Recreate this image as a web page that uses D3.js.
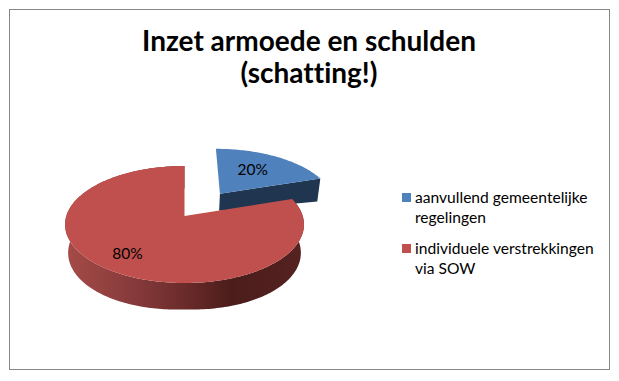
<!DOCTYPE html>
<html>
<head>
<meta charset="utf-8">
<script src="https://cdn.jsdelivr.net/npm/d3@7"></script>
<style>
  html, body { margin: 0; padding: 0; background: #fff; }
  svg { display: block; }
  text { font-family: Lato, "Open Sans", sans-serif; fill: #000; font-variant-ligatures: none; }
</style>
</head>
<body>
<div id="chart"></div>
<script>
const titleLines = ["Inzet armoede en schulden", "(schatting!)"];
const categories = ["aanvullend gemeentelijke regelingen", "individuele verstrekkingen via SOW"];
const legendLines = [["aanvullend gemeentelijke", "regelingen"], ["individuele verstrekkingen", "via SOW"]];
const values = [20, 80];
const topColors = ["#4f81bd", "#c0504d"];

const width = 619, height = 381;
const svg = d3.select("#chart").append("svg")
    .attr("width", width).attr("height", height);

svg.append("rect")
    .attr("x", 9.5).attr("y", 9.5)
    .attr("width", 600).attr("height", 360)
    .attr("fill", "#fff").attr("stroke", "#868686");

// fake 3d: circle in the plane (x right, z towards viewer), then perspective
const cx = 184.5, cy = 216, R = 118.2, K = 57.3, persp = 0.145;
const explode = [0.51, 0];
const nudge = [2, 0];
const labelRadius = [0.6, 0.75];

function project(x, z, drop) {
    const s = 1 / (1 - persp * z + (drop ? 0.026 : 0));
    return [cx + R * x * s, cy + (K * z + (drop || 0)) * s];
}

// point of a slice: a = angle clockwise from 12 o'clock, r = radius, depth = lower face
function slicePoint(mid, ex, a, r, depth) {
    const x = ex * Math.sin(mid) + r * Math.sin(a);
    const z = -ex * Math.cos(mid) - r * Math.cos(a);
    // the rim is a bit deeper at the sides of the big slice
    const side = ex === 0 ? 4 * Math.abs(Math.sin(a)) : 0;
    return project(x, z, depth ? 18 + 7 * r + side : 0);
}

const arcs = d3.pie().sort(null).startAngle(0).endAngle(2 * Math.PI)(values);
const line = d3.line();
const defs = svg.append("defs");

const sideGradient = defs.append("linearGradient")
    .attr("id", "red-side")
    .attr("gradientUnits", "userSpaceOnUse")
    .attr("x1", 66).attr("x2", 302).attr("y1", 0).attr("y2", 0);
sideGradient.selectAll("stop")
    .data([[0, "#a54b48"], [0.3, "#85393a"], [0.55, "#642826"], [0.7, "#4a1d1b"], [1, "#552220"]])
    .join("stop")
    .attr("offset", d => d[0])
    .attr("stop-color", d => d[1]);

const pie = svg.append("g");

arcs.forEach((d, i) => {
    const mid = (d.startAngle + d.endAngle) / 2;
    const ex = explode[i];
    const g = pie.append("g").attr("transform", `translate(${nudge[i]},0)`);
    const angles = d3.range(d.startAngle, d.endAngle, 0.02).concat(d.endAngle);
    const top = angles.map(a => slicePoint(mid, ex, a, 1, false));
    const apex = slicePoint(mid, ex, 0, 0, false);

    if (i === 0) {
        // cut face of the pulled out slice, the one facing the viewer
        g.append("path")
            .attr("d", line([apex, top[top.length - 1],
                slicePoint(mid, ex, d.endAngle, 1, true),
                slicePoint(mid, ex, 0, 0, true)]) + "Z")
            .attr("fill", "#1f3550");
    } else {
        const base = angles.map(a => slicePoint(mid, ex, a, 1, true));
        g.append("path")
            .attr("d", line(top.concat(base.reverse())) + "Z")
            .attr("fill", "url(#red-side)");
    }

    g.append("path")
        .attr("d", line([apex].concat(top)) + "Z")
        .attr("fill", topColors[i]);
});

// data labels go on top of everything
arcs.forEach((d, i) => {
    const mid = (d.startAngle + d.endAngle) / 2;
    const p = slicePoint(mid, explode[i], mid, labelRadius[i], false);
    svg.append("text")
        .attr("x", p[0]).attr("y", p[1] + 5)
        .attr("text-anchor", "middle")
        .style("font-size", "15.5px")
        .text(d.data + "%");
});

svg.selectAll(".title")
    .data(titleLines)
    .join("text")
    .attr("class", "title")
    .attr("x", 309).attr("y", (d, i) => 51 + i * 32)
    .attr("text-anchor", "middle")
    .style("font-size", "28px")
    .style("font-weight", "700")
    .text(d => d);

const legendY = d3.scalePoint().domain(categories).range([193, 244]);
const legend = svg.selectAll(".legend")
    .data(categories)
    .join("g")
    .attr("class", "legend")
    .attr("transform", d => `translate(402,${legendY(d)})`);

legend.append("rect")
    .attr("width", 9).attr("height", 9)
    .attr("fill", (d, i) => topColors[i]);

legend.each(function (d, i) {
    d3.select(this).selectAll("text")
        .data(legendLines[i])
        .join("text")
        .attr("x", 13).attr("y", (t, j) => 10 + j * 20)
        .style("font-size", "15.6px")
        .text(t => t);
});
</script>
</body>
</html>
